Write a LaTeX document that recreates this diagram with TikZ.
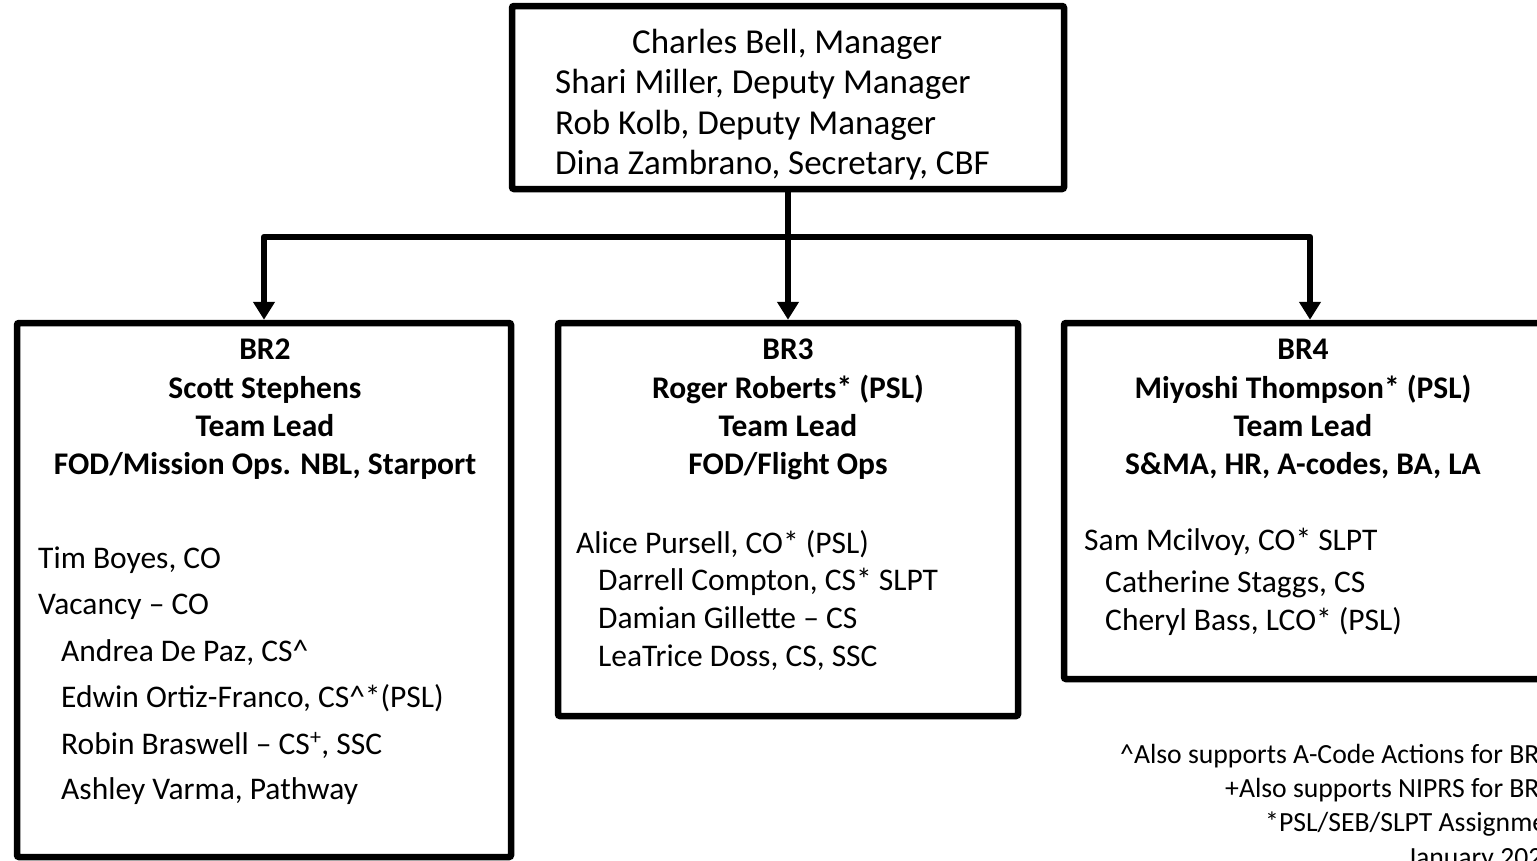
\documentclass[tikz,border=0pt]{standalone}
\usepackage{fontspec}
\setmainfont{Carlito}
\usetikzlibrary{arrows.meta}
\begin{document}
\begin{tikzpicture}[x=1pt,y=-1pt,
  box/.style={draw=black,line width=6.5pt,rounded corners=2pt,inner sep=0pt},
  conn/.style={line width=6.5pt,line join=round,-{Triangle[width=21pt,length=18pt]}},
  txt/.style={font=\fontsize{31.5}{38}\selectfont,inner sep=0pt},
  hd/.style={font=\bfseries\fontsize{31.5}{38}\selectfont,inner sep=0pt,anchor=base},
  bd/.style={txt,anchor=base west},
  tp/.style={font=\fontsize{35}{42}\selectfont,inner sep=0pt,anchor=base west},
  fn/.style={font=\fontsize{27.7}{34}\selectfont,inner sep=0pt,anchor=base west}]
\useasboundingbox (0,0) rectangle (1537,860);
\clip (0,0) rectangle (1537,860);
\fill[white] (0,0) rectangle (1537,860);

% boxes
\node[box,minimum width=552pt,minimum height=183pt] (top) at (788,97.5) {};
\node[box,minimum width=494pt,minimum height=534pt] (b2) at (264,590) {};
\node[box,minimum width=460pt,minimum height=393pt] (b3) at (788,519.5) {};
\node[box,minimum width=492pt,minimum height=356pt] (b4) at (1310,501) {};

% connectors
\coordinate (j) at (788,237);
\draw[conn] (top.south) -- (b3.north);
\draw[conn] (j) -| (b2.north);
\draw[conn] (j) -| (b4.north);

% top box text
\node[tp] (t1) at (632,53) {Charles Bell, Manager};
\node[tp] (t2) at (555,93.5) {Shari Miller, Deputy Manager};
\node[tp] (t3) at (555,134) {Rob Kolb, Deputy Manager};
\node[tp] (t4) at (555,174.5) {Dina Zambrano, Secretary, CBF};

% BR2
\node[hd] (h21) at (265,359) {BR2};
\node[hd] (h22) at (265,398) {Scott Stephens};
\node[hd] (h23) at (265,436) {Team Lead};
\node[hd] (h24) at (265,474) {FOD/Mission Ops. NBL, Starport};
\node[bd] (p21) at (38,568) {Tim Boyes, CO};
\node[bd] (p22) at (38,614) {Vacancy – CO};
\node[bd] (p23) at (61,661) {Andrea De Paz, CS\textasciicircum};
\node[bd] (p24) at (61,707) {Edwin Ortiz-Franco, CS\textasciicircum*(PSL)};
\node[bd] (p25) at (61,754) {Robin Braswell – CS\textsuperscript{+}, SSC};
\node[bd] (p26) at (61,799) {Ashley Varma, Pathway};

% BR3
\node[hd] (h31) at (788,359) {BR3};
\node[hd] (h32) at (788,398) {Roger Roberts* (PSL)};
\node[hd] (h33) at (788,436) {Team Lead};
\node[hd] (h34) at (788,474) {FOD/Flight Ops};
\node[bd] (p31) at (576,553) {Alice Pursell, CO* (PSL)};
\node[bd] (p32) at (598,590) {Darrell Compton, CS* SLPT};
\node[bd] (p33) at (598,628) {Damian Gillette – CS};
\node[bd] (p34) at (598,666) {LeaTrice Doss, CS, SSC};

% BR4
\node[hd] (h41) at (1303,359) {BR4};
\node[hd] (h42) at (1303,398) {Miyoshi Thompson* (PSL)};
\node[hd] (h43) at (1303,436) {Team Lead};
\node[hd] (h44) at (1303,474) {S\&MA, HR, A-codes, BA, LA};
\node[bd] (p41) at (1084,550) {Sam Mcilvoy, CO* SLPT};
\node[bd] (p42) at (1105,592) {Catherine Staggs, CS};
\node[bd] (p43) at (1105,630) {Cheryl Bass, LCO* (PSL)};

% footnotes
\node[fn] (f1) at (1120,763) {\textasciicircum Also supports A-Code Actions for BR};
\node[fn] (f2) at (1225,797) {+Also supports NIPRS for BR};
\node[fn] (f3) at (1265,831) {*PSL/SEB/SLPT Assignmen};
\node[fn] (f4) at (1407,866) {January 202};
\end{tikzpicture}
\end{document}
